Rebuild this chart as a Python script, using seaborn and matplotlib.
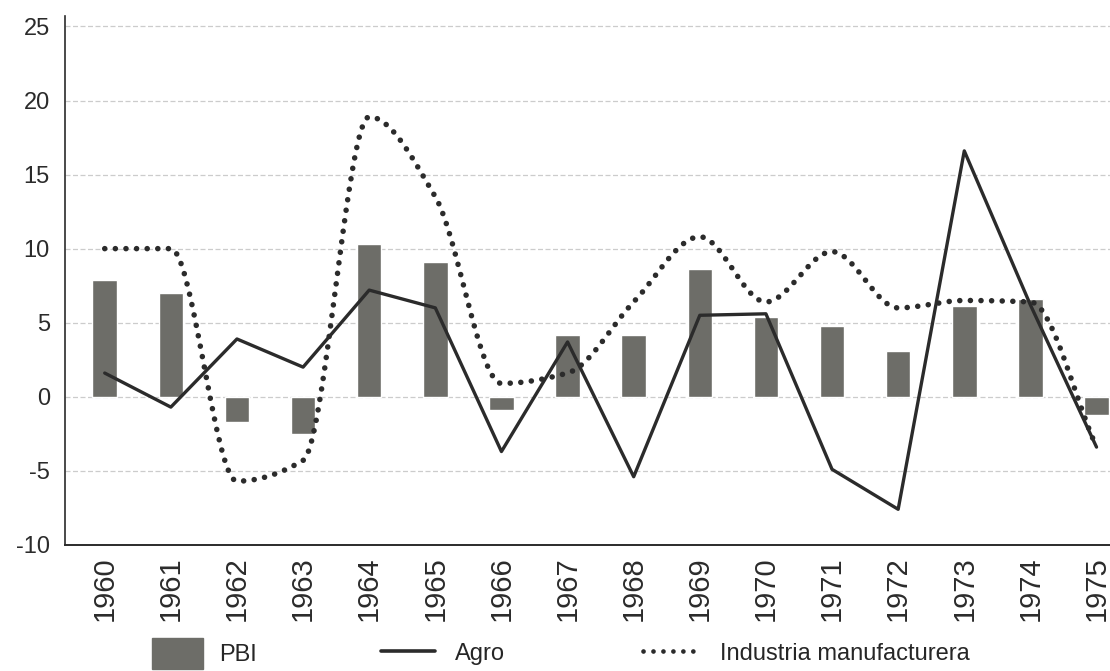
import numpy as np
import pandas as pd
import seaborn as sns
import matplotlib.pyplot as plt
from matplotlib.patches import Patch
from matplotlib.lines import Line2D

# Datos (variacion % anual)
anios = [str(a) for a in range(1960, 1976)]
pbi = [7.9, 7.0, -1.7, -2.5, 10.3, 9.1, -0.9, 4.2, 4.2, 8.6, 5.4, 4.8, 3.1, 6.1, 6.6, -1.2]
agro = [1.6, -0.7, 3.9, 2.0, 7.2, 6.0, -3.7, 3.7, -5.4, 5.5, 5.6, -4.9, -7.6, 16.6, 6.2, -3.4]
industria = [10.0, 10.0, -5.7, -4.3, 18.9, 13.5, 0.9, 1.6, 6.4, 10.8, 6.4, 9.8, 6.0, 6.5, 6.4, -3.4]

df = pd.DataFrame({"anio": anios, "PBI": pbi})


def suavizar(y, n=40):
    # curva monotona (tipo pchip) para la linea suavizada
    y = np.asarray(y, dtype=float)
    x = np.arange(len(y), dtype=float)
    d = np.diff(y)
    m = np.zeros_like(y)
    m[0], m[-1] = d[0], d[-1]
    for i in range(1, len(y) - 1):
        if d[i - 1] * d[i] > 0:
            m[i] = 2 * d[i - 1] * d[i] / (d[i - 1] + d[i])
    xs, ys = [], []
    for i in range(len(y) - 1):
        t = np.linspace(0, 1, n, endpoint=False)
        h00 = 2 * t**3 - 3 * t**2 + 1
        h10 = t**3 - 2 * t**2 + t
        h01 = -2 * t**3 + 3 * t**2
        h11 = t**3 - t**2
        xs.append(x[i] + t)
        ys.append(h00 * y[i] + h10 * m[i] + h01 * y[i + 1] + h11 * m[i + 1])
    xs.append([x[-1]])
    ys.append([y[-1]])
    return np.concatenate(xs), np.concatenate(ys)


sns.set_style("white")
plt.rcParams["font.family"] = ["Liberation Sans", "DejaVu Sans"]
plt.rcParams["axes.unicode_minus"] = False

fig = plt.figure(figsize=(11.1, 6.71), dpi=100)
ax = fig.add_axes([0.0586, 0.188, 0.965, 0.788])

gris_barra = "#6d6d68"
negro = "#2b2b2b"
punteado = (0, (0.01, 1.9))

sns.barplot(data=df, x="anio", y="PBI", color=gris_barra, width=0.37,
            saturation=1, ax=ax, zorder=2)

pos = np.arange(len(anios))
sns.lineplot(x=pos, y=agro, color=negro, linewidth=2.4, ax=ax, zorder=3)

xs, ys = suavizar(industria)
ax.plot(xs, ys, color=negro, linewidth=4.0, linestyle=punteado,
        dash_capstyle="round", zorder=4)

ax.set_xlim(-0.6, 15.6)
ax.set_ylim(-10, 25.7)
ax.set_yticks(range(-10, 26, 5))
ax.set_xlabel("")
ax.set_ylabel("")
ax.yaxis.grid(True, color="#cccccc", linewidth=0.9, linestyle=(0, (4, 2)))
ax.set_axisbelow(True)

for s in ["top", "right"]:
    ax.spines[s].set_visible(False)
ax.spines["left"].set_color(negro)
ax.spines["bottom"].set_color(negro)
ax.spines["left"].set_linewidth(1.2)
ax.spines["bottom"].set_linewidth(1.4)

ax.tick_params(axis="y", labelsize=17, length=7, color="#999999", pad=4, labelcolor=negro)
ax.tick_params(axis="x", labelsize=21, length=0, pad=8, labelcolor=negro, labelrotation=90)

# leyenda en tres partes
prop = {"size": 17}
fig.legend(handles=[Patch(color=gris_barra, label="PBI")], loc="center left",
           bbox_to_anchor=(0.118, 0.026), frameon=False, handlelength=2.15,
           handleheight=1.7, handletextpad=0.7, prop=prop)
fig.legend(handles=[Line2D([], [], color=negro, linewidth=2.6, label="Agro")],
           loc="center left", bbox_to_anchor=(0.324, 0.026), frameon=False,
           handlelength=2.3, handletextpad=0.85, prop=prop)
fig.legend(handles=[Line2D([], [], color=negro, linewidth=3.4, linestyle=(0, (0.01, 2.1)),
                           dash_capstyle="round", label="Industria manufacturera")],
           loc="center left", bbox_to_anchor=(0.560, 0.026), frameon=False,
           handlelength=2.4, handletextpad=0.85, prop=prop)

fig.savefig("out.png", dpi=100)
